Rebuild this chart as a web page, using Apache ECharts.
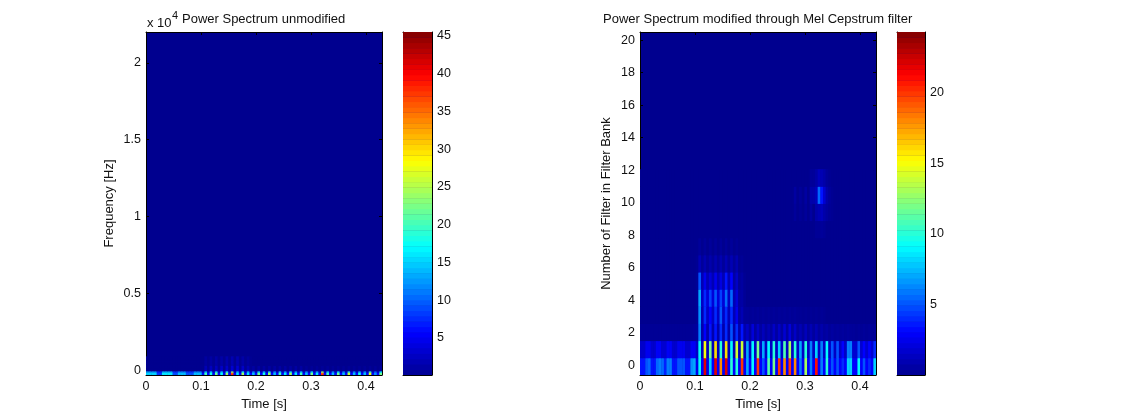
<!DOCTYPE html>
<html>
<head>
<meta charset="utf-8">
<style>html,body{margin:0;padding:0;background:#fff}#chart{width:1121px;height:420px}</style>
<script src="https://cdn.jsdelivr.net/npm/echarts@6/dist/echarts.min.js"></script>
</head>
<body>
<div id="chart"></div>
<script>
var xTicks = [0, 0.1, 0.2, 0.3, 0.4];
var freqTicks = [0, 0.5, 1, 1.5, 2];
var filterTicks = [0, 2, 4, 6, 8, 10, 12, 14, 16, 18, 20];
var powerTicks = [5, 10, 15, 20, 25, 30, 35, 40, 45];
var melTicks = [5, 10, 15, 20];

// left panel, lowest frequency bins, 89 time columns
var left0 = [15,15,15,15,8,8,16,16,16,16, 9,9,14,14,14,9,9,9,14,14, 14,6,20,6,18,6,22,6,17,6, 24,6,38,6,16,6,24,6,16,6,
  14,6,22,6,18,6,24,6,14,6, 20,6,16,6,24,6,16,6,20,6, 14,6,22,6,16,6,38,6,20,6, 14,6,22,6,14,6,26,6,14,6, 18,6,14,6,28,6,12,6,22];
var left1 = [15,15,15,15,8,8,16,16,16,16, 9,9,14,14,14,9,9,9,14,14, 14,6,20,6,18,6,22,6,17,6, 24,6,36,6,16,6,24,6,16,6,
  14,6,22,6,18,6,24,6,14,6, 20,6,16,6,24,6,16,6,20,6, 14,6,22,6,16,6,36,6,20,6, 14,6,22,6,14,6,26,6,14,6, 18,6,14,6,27,6,12,6,22];
var left2 = [13,13,13,13,7,7,14,14,14,14, 8,8,12,12,12,8,8,8,12,12, 12,3,15,3,15,3,18,3,15,3, 18,3,24,3,14,3,18,3,14,3,
  12,3,16,3,14,3,18,3,12,3, 15,3,13,3,18,3,13,3,15,3, 12,3,16,3,13,3,24,3,15,3, 12,3,16,3,12,3,19,3,12,3, 14,3,12,3,20,3,10,3,16];
var left3 = [0,0,0,0,0,0,0,0,0,0, 0,0,0,0,0,0,0,0,0,0, 0,0,2,0.3,2.5,0.3,2.5,0.3,3,0.3, 3,0.3,3.5,0.3,3.5,0.3,3,0.3,2,0.3,
  1,0,1,0,1,0,1,0,1,0, 1,0,1,0,1,0,1,0,1,0, 0.5,0,0.5,0,0.5,0,0.5,0,0.5,0, 0.5,0,0.5,0,0.5,0,0.5,0,0.5,0, 0.5,0,0.5,0,0.5,0,0.5,0,0.5];
var left4 = [0,0,0,0,0,0,0,0,0,0, 0,0,0,0,0,0,0,0,0,0, 0,0,0.8,0.2,1,0.2,1.2,0.2,1.2,0.2, 1.5,0.2,1.8,0.2,1.8,0.2,1.2,0.2,0.8,0.2,
  0,0,0,0,0,0,0,0,0,0, 0,0,0,0,0,0,0,0,0,0, 0,0,0,0,0,0,0,0,0,0, 0,0,0,0,0,0,0,0,0,0, 0,0,0,0,0,0,0,0,0];
var leftRows = [left0, left1, left2, left3, left3, left3, left3, left4, left4, left4, left4, left4, left4, left4];

// right panel, filter bank rows from the bottom up
var mel0 = [3.5,3.5,5,5.5,3.5,3.5,5.5,6,5.5,3.8, 6,6,3.5,3.5,5,5,5,3.5,3.5,6.5, 7,2.5,9,3,22,2.5,8,3,22,3, 18,3,22,3,10,3,10,3,20,3,
  7,3,9,3,20,3,5,3,11,3, 12,3,20,3,18,3,20,3,18,3, 6,3,13,3,6,3,21,3,6,3, 10,3,5,3,5,3,4,3,8,8, 3,3,9,3,5,3,4,3,8];
var mel1 = [1.6,1.6,2.6,2.6,1.7,1.7,2.8,2.8,1.8,1.8, 2.8,2.8,1.7,1.7,2.6,2.6,2.6,1.7,1.7,2.8, 2.8,1.5,9,1.2,15,1.2,12,1.2,16,1.2, 10,1.2,16,1.2,9,1.2,14,1.2,14,1.2,
  7,1.5,9,1.5,12,1.5,7,1.5,9,1.5, 10,1.5,8,1.5,11,1.5,13,1.5,10,1.5, 7,1.5,10,1.5,6,1.5,8,1.5,6,1.5, 9,1.5,5,1.5,5,1.5,3,1.5,6,6, 1.8,1.8,5,1.8,3,1.8,3,1.8,4];
var mel2 = [0.2,0.2,0.2,0.2,0.2,0.2,0.2,0.2,0.2,0.2, 0.2,0.2,0.2,0.2,0.2,0.2,0.2,0.2,0.2,0.2, 0.3,0.4,6,0.8,3,0.8,3.5,0.8,3.5,0.8, 4,0.8,4,0.8,5,0.8,4,0.8,3.5,0.8,
  1.5,0.5,2,0.5,1.5,0.5,1.2,0.5,1,0.5, 1.5,0.5,1.5,0.5,1.8,0.5,2,0.5,1.5,0.5, 1,0.4,1.2,0.4,1,0.4,1,0.4,0.8,0.4, 0.6,0.3,0.5,0.3,0.4,0.3,0.4,0.3,0.4,0.3, 0.3,0.2,0.3,0.2,0.3,0.2,0.3,0.2,0.3];
var mel3 = [0,0,0,0,0,0,0,0,0,0, 0,0,0,0,0,0,0,0,0,0, 0,0.2,6.5,1,4,1.5,3,1.5,4,1.5, 5,1.5,4,1.2,4,1,2.5,0.5,1,0.3,
  0.3,0.2,0.3,0.2,0.3,0.2,0.3,0.2,0.3,0.2, 0.3,0.2,0.3,0.2,0.3,0.2,0.3,0.2,0.3,0.2, 0.2,0.1,0.2,0.1,0.2,0.1,0.2,0.1,0.2,0.1, 0,0,0,0,0,0,0,0,0,0, 0,0,0,0,0,0,0,0,0];
var mel4 = [0,0,0,0,0,0,0,0,0,0, 0,0,0,0,0,0,0,0,0,0, 0,0.2,7,1.5,4,2,4.5,2,5,2, 4.5,2,5.5,1.5,5.5,1,2,0.5,0.6,0.2,
  0,0,0,0,0,0,0,0,0,0, 0,0,0,0,0,0,0,0,0,0, 0,0,0,0,0,0,0,0,0,0, 0,0,0,0,0,0,0,0,0,0, 0,0,0,0,0,0,0,0,0];
var mel5 = [0,0,0,0,0,0,0,0,0,0, 0,0,0,0,0,0,0,0,0,0, 0,0.2,5,1,2.5,1,2,1,2.5,1, 2.2,1,3.5,1,3,0.6,1.5,0.3,0.5,0.1,
  0,0,0,0,0,0,0,0,0,0, 0,0,0,0,0,0,0,0,0,0, 0,0,0,0,0,0,0,0,0,0, 0,0,0,0,0,0,0,0,0,0, 0,0,0,0,0,0,0,0,0];
var mel6 = [0,0,0,0,0,0,0,0,0,0, 0,0,0,0,0,0,0,0,0,0, 0,0.1,1,0.3,0.9,0.3,0.8,0.3,0.9,0.3, 0.9,0.3,1,0.3,1,0.3,0.9,0.1,0.2,0,
  0,0,0,0,0,0,0,0,0,0, 0,0,0,0,0,0,0,0,0,0, 0,0,0,0,0,0,0,0,0,0, 0,0,0,0,0,0,0,0,0,0, 0,0,0,0,0,0,0,0,0];
var mel7 = [0,0,0,0,0,0,0,0,0,0, 0,0,0,0,0,0,0,0,0,0, 0,0,0.3,0,0.3,0,0.3,0,0.3,0, 0.3,0,0.3,0,0.3,0,0.2,0,0,0,
  0,0,0,0,0,0,0,0,0,0, 0,0,0,0,0,0,0,0,0,0, 0,0,0,0,0,0,0,0,0,0, 0,0,0,0,0,0,0,0,0,0, 0,0,0,0,0,0,0,0,0];
var mel8 = [0,0,0,0,0,0,0,0,0,0, 0,0,0,0,0,0,0,0,0,0, 0,0,0,0,0,0,0,0,0,0, 0,0,0,0,0,0,0,0,0,0,
  0,0,0,0,0,0,0,0,0,0, 0,0,0,0,0,0,0,0,0,0, 0,0,0,0,0,0,0.2,0.2,0.3,0.2, 0,0,0,0,0,0,0,0,0,0, 0,0,0,0,0,0,0,0,0];
var mel9 = [0,0,0,0,0,0,0,0,0,0, 0,0,0,0,0,0,0,0,0,0, 0,0,0,0,0,0,0,0,0,0, 0,0,0,0,0,0,0,0,0,0,
  0,0,0,0,0,0,0,0,0,0, 0,0,0,0,0,0,0,0,0.3,0, 0.2,0,0.3,0,0.5,0,0.7,1,1.2,0.7, 0.4,0.2,0.1,0,0,0,0,0,0,0, 0,0,0,0,0,0,0,0,0];
var mel10 = [0,0,0,0,0,0,0,0,0,0, 0,0,0,0,0,0,0,0,0,0, 0,0,0,0,0,0,0,0,0,0, 0,0,0,0,0,0,0,0,0,0,
  0,0,0,0,0,0,0,0,0,0, 0,0,0,0,0,0,0,0,0.5,0, 0.3,0,0.5,0,0.8,0.8,1.2,5.5,3.5,1.8, 0.7,0.3,0.1,0,0,0,0,0,0,0, 0,0,0,0,0,0,0,0,0];
var mel11 = [0,0,0,0,0,0,0,0,0,0, 0,0,0,0,0,0,0,0,0,0, 0,0,0,0,0,0,0,0,0,0, 0,0,0,0,0,0,0,0,0,0,
  0,0,0,0,0,0,0,0,0,0, 0,0,0,0,0,0,0,0,0,0, 0,0,0,0,0.3,0.3,0.6,1.2,1,0.7, 0.3,0.1,0,0,0,0,0,0,0,0, 0,0,0,0,0,0,0,0,0];
var melRows = [mel0, mel1, mel2, mel3, mel4, mel5, mel6, mel7, mel8, mel9, mel10, mel11];

var jetColors = ['#00008f', '#0000ff', '#0080ff', '#00ffff', '#80ff80', '#ffff00', '#ff8000', '#ff0000', '#800000'];
var tMax = 0.429, nCols = 89;
var freqMin = -0.03, freqMax = 2.2, freqBins = 257;
var melMin = -0.6, melMax = 20.5, melBins = 20;
var powerMin = 0.1, powerMax = 45.5;
var melValMin = 0, melValMax = 24.3;
var FONT = '"Liberation Sans", Arial, sans-serif';

function cells(rows) {
    var out = [];
    for (var r = 0; r < rows.length; r++) {
        for (var c = 0; c < rows[r].length; c++) {
            out.push([c, r, rows[r][c]]);
        }
    }
    return out;
}

function barCells(lo, hi) {
    var out = [];
    for (var i = 0; i < 64; i++) {
        out.push([0, i, lo + (hi - lo) * (i + 0.5) / 64]);
    }
    return out;
}

// one image cell; columns and rows are stretched over the whole axis range like imagesc
function cellRender(x0, x1, cols, y0, y1, rows) {
    return function (params, api) {
        var c = api.value(0), r = api.value(1);
        var a = api.coord([x0 + (x1 - x0) * c / cols, y0 + (y1 - y0) * (r + 1) / rows]);
        var b = api.coord([x0 + (x1 - x0) * (c + 1) / cols, y0 + (y1 - y0) * r / rows]);
        return {
            type: 'rect',
            shape: echarts.graphic.clipRectByRect({
                x: a[0], y: a[1], width: b[0] - a[0] + 0.4, height: b[1] - a[1] + 0.4
            }, params.coordSys) || {x: 0, y: 0, width: 0, height: 0},
            style: {fill: api.visual('color')}
        };
    };
}

function valueAxis(grid, pos, min, max, ticks, showLabel, name, nameGap) {
    return {
        type: 'value', gridIndex: grid, position: pos, min: min, max: max, scale: true,
        name: name || '', nameLocation: 'middle', nameGap: nameGap || 0,
        nameTextStyle: {fontFamily: FONT, fontSize: 13, color: '#111'},
        splitLine: {show: false},
        axisLine: {show: true, onZero: false, lineStyle: {color: '#000', width: 1}},
        axisTick: ticks.length ? {show: true, inside: true, length: 3, customValues: ticks, lineStyle: {color: '#000'}} : {show: false},
        axisLabel: showLabel ? {show: true, customValues: ticks, fontFamily: FONT, fontSize: 12.5, color: '#111', margin: 5, hideOverlap: false} : {show: false}
    };
}

var grids = [
    {left: 146, top: 32, width: 236, height: 343},
    {left: 403, top: 32, width: 29, height: 343},
    {left: 640, top: 32, width: 236, height: 343},
    {left: 897, top: 32, width: 28, height: 343}
];
grids.forEach(function (g) {
    g.show = true;
    g.backgroundColor = '#00008f';
    g.borderWidth = 0;
    g.containLabel = false;
});

function label(text, left, top, size) {
    return {text: text, left: left, top: top, textStyle: {fontFamily: FONT, fontSize: size, fontWeight: 'normal', color: '#111'}};
}

var option = {
    animation: false,
    backgroundColor: '#fff',
    textStyle: {fontFamily: FONT},
    title: [
        label('Power Spectrum unmodified', 177, 8, 13),
        label('Power Spectrum modified through Mel Cepstrum filter', 598, 8, 13),
        label('x 10', 142, 12, 13),
        label('4', 167, 5, 11)
    ],
    grid: grids,
    visualMap: [
        {show: false, type: 'continuous', seriesIndex: [0, 1], dimension: 2, min: 0, max: powerMax, inRange: {color: jetColors}},
        {show: false, type: 'continuous', seriesIndex: [2, 3], dimension: 2, min: melValMin, max: melValMax, inRange: {color: jetColors}}
    ],
    xAxis: [
        valueAxis(0, 'bottom', 0, tMax, xTicks, true, 'Time [s]', 21),
        valueAxis(0, 'top', 0, tMax, xTicks, false),
        valueAxis(1, 'bottom', 0, 1, [], false),
        valueAxis(1, 'top', 0, 1, [], false),
        valueAxis(2, 'bottom', 0, tMax, xTicks, true, 'Time [s]', 21),
        valueAxis(2, 'top', 0, tMax, xTicks, false),
        valueAxis(3, 'bottom', 0, 1, [], false),
        valueAxis(3, 'top', 0, 1, [], false)
    ],
    yAxis: [
        valueAxis(0, 'left', freqMin, freqMax, freqTicks, true, 'Frequency [Hz]', 30),
        valueAxis(0, 'right', freqMin, freqMax, freqTicks, false),
        valueAxis(1, 'right', powerMin, powerMax, powerTicks, true),
        valueAxis(1, 'left', powerMin, powerMax, powerTicks, false),
        valueAxis(2, 'left', melMin, melMax, filterTicks, true, 'Number of Filter in Filter Bank', 27),
        valueAxis(2, 'right', melMin, melMax, filterTicks, false),
        valueAxis(3, 'right', melValMin, melValMax, melTicks, true),
        valueAxis(3, 'left', melValMin, melValMax, melTicks, false)
    ],
    series: [
        {type: 'custom', xAxisIndex: 0, yAxisIndex: 0, silent: true, data: cells(leftRows),
            encode: {x: 0, y: 1}, renderItem: cellRender(0, tMax, nCols, freqMin, freqMax, freqBins)},
        {type: 'custom', xAxisIndex: 2, yAxisIndex: 2, silent: true, data: barCells(powerMin, powerMax),
            encode: {x: 0, y: 1}, renderItem: cellRender(0, 1, 1, powerMin, powerMax, 64)},
        {type: 'custom', xAxisIndex: 4, yAxisIndex: 4, silent: true, data: cells(melRows),
            encode: {x: 0, y: 1}, renderItem: cellRender(0, tMax, nCols, melMin, melMax, melBins)},
        {type: 'custom', xAxisIndex: 6, yAxisIndex: 6, silent: true, data: barCells(melValMin, melValMax),
            encode: {x: 0, y: 1}, renderItem: cellRender(0, 1, 1, melValMin, melValMax, 64)}
    ]
};

var myChart = echarts.init(document.getElementById('chart'));
myChart.setOption(option);
</script>
</body>
</html>
